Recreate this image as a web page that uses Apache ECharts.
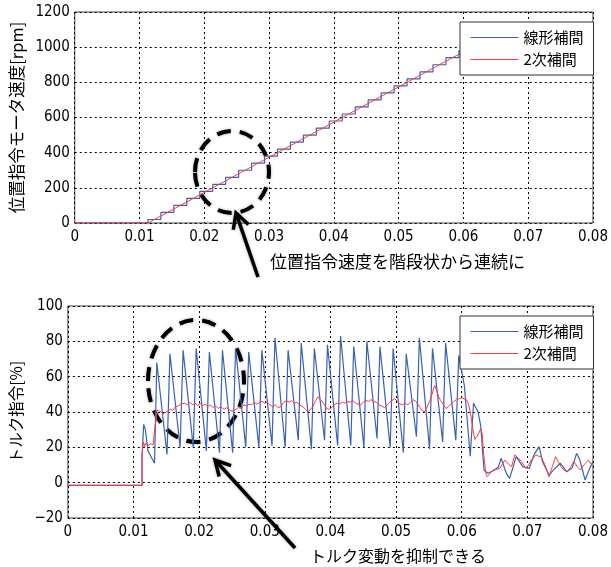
<!DOCTYPE html>
<html>
<head>
<meta charset="utf-8">
<script src="https://cdn.jsdelivr.net/npm/echarts@6/dist/echarts.min.js"></script>
<style>
html,body{margin:0;padding:0;background:#fff;}
#chart{width:611px;height:567px;}
</style>
</head>
<body>
<div id="chart"></div>
<script>
// top chart: position command speed [rpm]
var stepTimes = [0.0113,0.0133,0.0153,0.0173,0.0193,0.0213,0.0233,0.0253,0.0273,0.0293,0.0313,0.0333,0.0353,
                 0.0373,0.0393,0.0413,0.0433,0.0453,0.0473,0.0493,0.0513,0.0533,0.0553,0.0573,0.0593,0.0613];
var stepLevels = [20,60,100,140,180,220,260,300,340,380,420,460,500,540,580,620,660,700,740,780,820,860,900,940,980,1000];
var quadSpeed = [[0,0],[0.0113,0],[0.0613,1000],[0.08,1000]];

// bottom chart: torque command [%]
var linearTorque = [
  [0,-1.5],[0.0113,-1.5],[0.0113,15],[0.01155,33],[0.0118,30],[0.0122,18],[0.0132,11],
  [0.01355,68],[0.0151,16],[0.01555,73],[0.0171,20],[0.01755,75],[0.0191,20],
  [0.01955,76],[0.0211,18],[0.02155,74],[0.0231,17],[0.02355,75],[0.0251,17],
  [0.02555,76],[0.0271,20],[0.02755,74],[0.0291,20],[0.02955,75],[0.0311,21],
  [0.03155,82],[0.0331,20],[0.03355,75],[0.0351,24],[0.03555,79],[0.0371,19],
  [0.03755,76],[0.0391,24],[0.03955,78],[0.0411,21],[0.04155,83],[0.0431,21],
  [0.04355,77],[0.0451,20],[0.04555,80],[0.0471,25],[0.04755,77],[0.0491,20],
  [0.04955,76],[0.0511,17],[0.05155,73],[0.0531,26],[0.05355,82],[0.0551,19],
  [0.05555,76],[0.0571,23],[0.05755,79],[0.0591,24],[0.05955,72],[0.0604,55],
  [0.0613,15],[0.0618,45],[0.0625,40],[0.0629,32],[0.0634,7],[0.0640,5.3],
  [0.0650,7.2],[0.0656,9],[0.0660,13.8],[0.0668,5.3],[0.0673,2.4],[0.0683,14.7],
  [0.0693,9.1],[0.0703,8.1],[0.0710,15.7],[0.0718,20.4],[0.0723,12],[0.0733,4.3],
  [0.0740,7.2],[0.0750,11],[0.0760,6.2],[0.0768,8.1],[0.0775,16.6],[0.0780,12.8],
  [0.0788,1.5],[0.0795,8.1],[0.0800,12]
];
var quadTorque = [
  [0,-1.5],[0.0113,-1.5],[0.0113,16],[0.0115,23],[0.0117,20.5],[0.0119,22.5],[0.0122,21],[0.0126,22],
  [0.0130,21.5],[0.0132,22],[0.0133,33],[0.01345,35],[0.01355,41],[0.0140,40.5],[0.0145,39],[0.0148,38.5],
  [0.0152,40.5],[0.0156,41.5],[0.0160,41],[0.0164,43],[0.0168,43.5],[0.0172,44.5],[0.0175,43.5],[0.0178,45],
  [0.0182,44],[0.0186,45.5],[0.0190,44],[0.0194,45],[0.0198,43.5],[0.0201,45],[0.0205,43.5],[0.0209,44.5],
  [0.0213,43],[0.0217,44],[0.0221,42.5],[0.0225,43.5],[0.0229,42],[0.0233,43],[0.0238,41.5],[0.0242,42.5],
  [0.0246,41],[0.0250,40.5],[0.0253,39.5],[0.0256,41.5],[0.0260,42.5],[0.0264,42],[0.0268,44],[0.0272,43.5],
  [0.0276,44.5],[0.0280,44],[0.0284,45.5],[0.0288,44.5],[0.0292,45.5],[0.0296,46],[0.0300,45],[0.0304,45.5],
  [0.0308,44],[0.0312,43],[0.0316,44],[0.0320,42.5],[0.0324,43],[0.0328,45],[0.0333,46.5],[0.0337,45.5],
  [0.0341,46.5],[0.0345,45],[0.0349,45.5],[0.0353,44],[0.0358,43],[0.0362,41.5],[0.0366,40],[0.0369,39.5],
  [0.0373,43],[0.0377,46],[0.0381,48.5],[0.0385,47],[0.0388,47.5],[0.0391,44],[0.0394,42],[0.0398,41.5],
  [0.0402,42.5],[0.0406,44],[0.0410,45],[0.0414,44.5],[0.0418,45.5],[0.0422,45],[0.0426,46],[0.0430,45.5],
  [0.0434,46.5],[0.0438,45],[0.0442,44.5],[0.0446,44],[0.0450,45.5],[0.0454,46.5],[0.0458,46],[0.0462,47],
  [0.0466,46],[0.0470,45.5],[0.0474,44],[0.0478,43.5],[0.0482,42.5],[0.0486,43.5],[0.0490,45.5],[0.0494,46.5],
  [0.0498,47.5],[0.0502,46],[0.0506,44.5],[0.0510,44],[0.0514,45],[0.0518,44],[0.0522,45.5],[0.0526,47],
  [0.0530,46],[0.0534,44],[0.0538,41.5],[0.0543,40],[0.0547,42.5],[0.0551,46],[0.0554,49],[0.0557,53],
  [0.0559,55],[0.0562,52],[0.0565,48.5],[0.0568,46.5],[0.0572,44],[0.0576,42],[0.0580,43],[0.0584,44.5],
  [0.0588,46],[0.0592,47],[0.0596,47.5],[0.0600,48],[0.0603,48.5],[0.0607,47],[0.0610,45],[0.0613,40],
  [0.0615,35.5],[0.0618,28],[0.0620,24.5],[0.0623,26],[0.0626,28],[0.0629,30.5],[0.0631,28],[0.0634,14],
  [0.0637,5],[0.0639,3.4],[0.0642,3],[0.0645,6],[0.0648,7.2],[0.0653,7.5],[0.0658,8.1],[0.0662,10.5],
  [0.0666,12.8],[0.0671,10.5],[0.0676,9.1],[0.0681,15.7],[0.0686,14],[0.0691,12],[0.0698,8.1],[0.0702,10],
  [0.0706,12.8],[0.0713,15.7],[0.0717,15],[0.0721,14.7],[0.0725,11.5],[0.0728,9.1],[0.0733,3.3],[0.0738,9],
  [0.0743,14.7],[0.0747,12],[0.0751,9.1],[0.0756,7],[0.0761,6.2],[0.0766,9],[0.0771,12],[0.0776,9],
  [0.0781,7.2],[0.0786,10],[0.0790,11.5],[0.0793,12.8],[0.0797,10.5],[0.0800,9.5]
];
var seriesNames = ['線形補間', '2次補間'];

// staircase from the step arrays
var linearSpeed = [[0, 0]];
var prev = 0;
for (var i = 0; i < stepTimes.length; i++) {
  linearSpeed.push([stepTimes[i], prev]);
  linearSpeed.push([stepTimes[i], stepLevels[i]]);
  prev = stepLevels[i];
}
linearSpeed.push([0.08, prev]);

var BLUE = '#3a62b2', RED = '#ff3a3a';
var numFont = '"Liberation Sans Narrow", "DejaVu Sans Condensed", sans-serif';
var jpFont = '"Noto Sans CJK JP", sans-serif';

function xAx(gi) {
  return {
    type: 'value', gridIndex: gi, min: 0, max: 0.08, interval: 0.01,
    axisLine: {show: false}, axisTick: {show: false},
    axisLabel: {color: '#000', fontSize: 15, fontFamily: numFont, margin: 7,
      formatter: function (v) { return v === 0 ? '0' : v.toFixed(2); }},
    splitLine: {show: true, lineStyle: {color: '#000', type: [2, 3], width: 1}}
  };
}
function yAx(gi, mn, mx, step, name, nsize) {
  return {
    type: 'value', gridIndex: gi, min: mn, max: mx, interval: step,
    name: name, nameLocation: 'middle', nameRotate: 90, nameGap: 40,
    nameTextStyle: {color: '#000', fontSize: nsize, fontFamily: jpFont},
    axisLine: {show: false}, axisTick: {show: false},
    axisLabel: {color: '#000', fontSize: 15, fontFamily: numFont, margin: 5,
      formatter: function (v) { return String(v).replace('-', '\u2212'); }},
    splitLine: {show: true, lineStyle: {color: '#000', type: [2, 3], width: 1}}
  };
}
function legendAt(top) {
  return {
    data: seriesNames, orient: 'vertical', left: 460, top: top,
    itemWidth: 48, itemHeight: 14, itemGap: 7, padding: [8, 10],
    backgroundColor: '#fff', borderColor: '#333', borderWidth: 1,
    itemStyle: {opacity: 0},
    lineStyle: {width: 1},
    textStyle: {color: '#000', fontSize: 15, fontFamily: jpFont},
    selectedMode: false
  };
}
function arrow(x1, y1, x2, y2) {
  var dx = x2 - x1, dy = y2 - y1, L = Math.sqrt(dx * dx + dy * dy);
  var ux = dx / L, uy = dy / L, hl = 15, hw = 8;
  var bx = x2 - ux * hl, by = y2 - uy * hl;
  var st = {stroke: '#000', lineWidth: 3.5, fill: null, shadowBlur: 3, shadowColor: 'rgba(0,0,0,0.35)'};
  return [
    {type: 'line', shape: {x1: x1, y1: y1, x2: x2 - ux * 2, y2: y2 - uy * 2}, style: st},
    {type: 'polyline', shape: {points: [[bx - uy * hw, by + ux * hw], [x2, y2], [bx + uy * hw, by - ux * hw]]}, style: st}
  ];
}
function ring(cx, cy, rx, ry) {
  return {type: 'ellipse', shape: {cx: cx, cy: cy, rx: rx, ry: ry},
    style: {stroke: '#000', fill: null, lineWidth: 4, lineDash: [14, 9],
      shadowBlur: 3, shadowColor: 'rgba(0,0,0,0.35)'}};
}
function note(x, y, txt, size) {
  return {type: 'text', style: {text: txt, x: x, y: y, fill: '#000', fontSize: size,
    fontFamily: jpFont, verticalAlign: 'middle'}};
}

var chart = echarts.init(document.getElementById('chart'));
var graphics = [ring(232, 172, 37, 41), ring(196, 381, 48, 61)]
  .concat(arrow(258, 277, 236, 213))
  .concat(arrow(295, 548, 215, 460))
  .concat([note(270, 262, '位置指令速度を階段状から連続に', 17), note(310, 556, 'トルク変動を抑制できる', 16)]);

chart.setOption({
  animation: false,
  backgroundColor: '#fff',
  grid: [
    {left: 63, top: 12, width: 534, height: 211, show: true, borderColor: '#444', borderWidth: 1, backgroundColor: '#fff'},
    {left: 63, top: 306, width: 534, height: 212, show: true, borderColor: '#444', borderWidth: 1, backgroundColor: '#fff'}
  ],
  legend: [legendAt(22), legendAt(316)],
  xAxis: [xAx(0), xAx(1)],
  yAxis: [yAx(0, 0, 1200, 200, '位置指令モータ速度[rpm]', 16.5), yAx(1, -20, 100, 20, 'トルク指令[%]', 15.5)],
  series: [
    {name: seriesNames[0], type: 'line', xAxisIndex: 0, yAxisIndex: 0, data: linearSpeed,
      symbol: 'none', lineStyle: {color: BLUE, width: 1.2}, itemStyle: {color: BLUE}},
    {name: seriesNames[1], type: 'line', xAxisIndex: 0, yAxisIndex: 0, data: quadSpeed,
      symbol: 'none', lineStyle: {color: RED, width: 1}, itemStyle: {color: RED}},
    {name: seriesNames[0], type: 'line', xAxisIndex: 1, yAxisIndex: 1, data: linearTorque,
      symbol: 'none', lineStyle: {color: BLUE, width: 1.2}, itemStyle: {color: BLUE}},
    {name: seriesNames[1], type: 'line', xAxisIndex: 1, yAxisIndex: 1, data: quadTorque,
      symbol: 'none', lineStyle: {color: RED, width: 1}, itemStyle: {color: RED}}
  ],
  graphic: graphics
});
</script>
</body>
</html>
